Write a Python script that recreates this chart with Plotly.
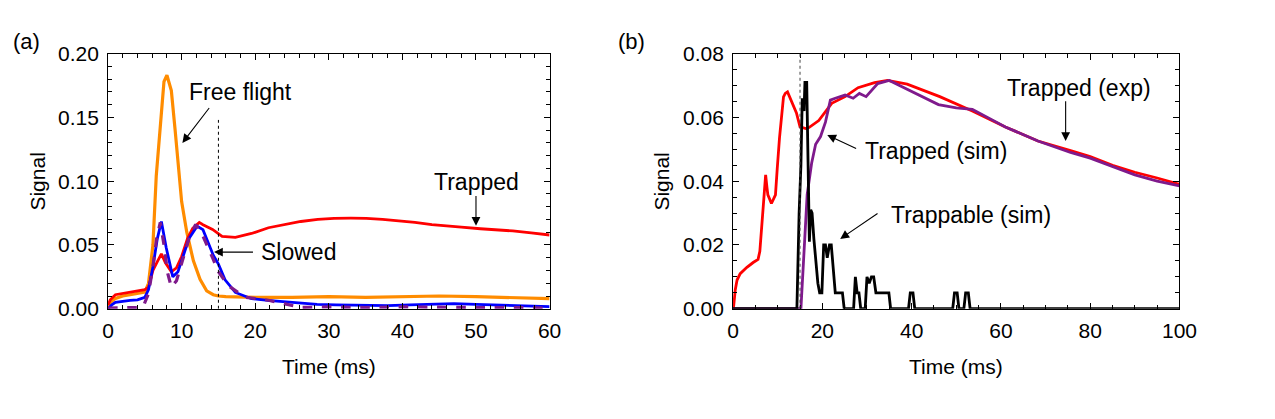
import plotly.graph_objects as go

# ---------------- Panel (a) data ----------------
orange_t = [0, 0.5, 1, 2, 3, 4, 5, 5.5, 6.1, 6.55, 7.2, 7.6, 8.0, 8.6, 9.1, 9.6, 10.0, 10.7, 11.6, 12.5, 13.4, 14.3, 15, 16, 18, 20, 25, 30, 35, 40, 45, 50, 55, 60]
orange_v = [0.002, 0.006, 0.008, 0.010, 0.011, 0.012, 0.013, 0.020, 0.050, 0.104, 0.154, 0.178, 0.183, 0.171, 0.141, 0.109, 0.084, 0.060, 0.0375, 0.023, 0.014, 0.011, 0.010, 0.0095, 0.009, 0.009, 0.009, 0.0095, 0.009, 0.0095, 0.010, 0.0095, 0.009, 0.008]

red_a_t = [0, 0.3, 1, 2, 3, 4, 5, 5.5, 6.1, 6.7, 7.25, 7.8, 8.6, 9.3, 10, 10.8, 11.5, 12.4, 12.9, 14.2, 15.5, 17.3, 19.5, 21.8, 24, 26.2, 28.5, 30.7, 33, 35.1, 37.3, 39.6, 41.7, 44, 46.1, 48, 50.6, 53, 55, 57.5, 60]
red_a_v = [0.003, 0.007, 0.011, 0.012, 0.013, 0.014, 0.015, 0.017, 0.030, 0.037, 0.043, 0.036, 0.029, 0.032, 0.041, 0.055, 0.063, 0.0677, 0.0659, 0.0622, 0.0568, 0.056, 0.059, 0.0635, 0.066, 0.0684, 0.070, 0.0709, 0.071, 0.0709, 0.070, 0.0691, 0.0677, 0.066, 0.0647, 0.064, 0.0627, 0.062, 0.061, 0.0595, 0.0578]

blue_t = [0, 0.5, 1, 2, 3, 4, 5, 5.5, 6.1, 6.7, 7.25, 7.9, 8.8, 9.5, 10.1, 11, 12.1, 12.9, 13.6, 14.3, 15, 15.9, 17.3, 19.5, 21.7, 23.9, 26, 28.4, 31, 35, 38, 41, 44, 47, 50, 53, 56, 60]
blue_v = [0.0, 0.003, 0.005, 0.006, 0.0065, 0.007, 0.009, 0.015, 0.033, 0.055, 0.0684, 0.048, 0.025, 0.029, 0.040, 0.055, 0.0647, 0.062, 0.052, 0.042, 0.035, 0.0227, 0.0128, 0.0079, 0.0065, 0.0054, 0.0045, 0.0035, 0.003, 0.0025, 0.0025, 0.003, 0.0035, 0.004, 0.0035, 0.003, 0.0025, 0.0017]

purple_a_t = [0, 2, 4, 4.8, 5.5, 6.1, 6.6, 7.1, 7.6, 8.1, 8.6, 9.3, 10.1, 11, 11.9, 12.9, 14.2, 15, 16.4, 18.6, 21.8, 24.4, 26.2, 30, 35, 40, 45, 50, 55, 60]
purple_a_v = [0.0005, 0.001, 0.001, 0.002, 0.012, 0.033, 0.055, 0.0677, 0.050, 0.028, 0.017, 0.022, 0.038, 0.055, 0.066, 0.057, 0.040, 0.029, 0.0178, 0.0091, 0.0067, 0.003, 0.001, 0.0015, 0.001, 0.0015, 0.001, 0.001, 0.001, 0.0005]

# ---------------- Panel (b) data ----------------
red_b_t = [0, 0.15, 0.5, 0.9, 1.6, 3.1, 4.5, 5.6, 6.0, 6.4, 6.7, 7.0, 7.3, 7.6, 7.8, 8.6, 9.5, 9.9, 10.4, 11.3, 11.7, 12.2, 12.8, 13.3, 14.2, 15.0, 16.3, 17, 19.2, 22.1, 25.1, 28, 31.7, 34.6, 39, 46.3, 53.6, 61, 68.3, 75.6, 80, 85, 90, 95, 100]
red_b_v = [0, 0.001, 0.006, 0.009, 0.011, 0.013, 0.0145, 0.0155, 0.018, 0.025, 0.033, 0.038, 0.042, 0.038, 0.0357, 0.033, 0.0357, 0.044, 0.0535, 0.0664, 0.0675, 0.068, 0.066, 0.0644, 0.0614, 0.0570, 0.0565, 0.0568, 0.059, 0.0644, 0.0665, 0.0693, 0.0709, 0.0716, 0.0704, 0.0665, 0.062, 0.057, 0.0526, 0.0496, 0.0477, 0.045, 0.0428, 0.041, 0.039]

purple_b_t = [0, 15.2, 16.6, 17.6, 18.5, 19.6, 20.7, 21.8, 22.9, 25.1, 26.9, 28.3, 29.8, 32.4, 35, 37.5, 42.6, 46, 50, 53.6, 57, 61, 68.3, 75.6, 80, 85, 90, 95, 100]
purple_b_v = [0, 0, 0.0358, 0.0456, 0.0516, 0.054, 0.0585, 0.0654, 0.066, 0.067, 0.066, 0.0675, 0.0665, 0.0706, 0.0716, 0.0699, 0.0665, 0.064, 0.063, 0.0625, 0.060, 0.057, 0.0526, 0.049, 0.0472, 0.0445, 0.042, 0.040, 0.0385]

black_t = [0, 14.3, 14.8, 15.2, 15.5, 15.9, 16.1, 16.5, 16.8, 17.1, 17.4, 17.7, 18.1, 18.5, 19.0, 19.4, 19.9, 20.3, 20.7, 21.1, 21.6, 22.0, 22.5, 22.9, 24.5, 24.9, 27.0, 27.4, 27.8, 28.2, 28.6, 29.6, 30.0, 30.5, 31.0, 31.5, 32.0, 32.4, 34.9, 35.3, 39.3, 39.7, 40.3, 40.7, 49.2, 49.6, 50.2, 50.6, 51.7, 52.1, 52.7, 53.1, 100]
black_v = [0, 0, 0.030, 0.045, 0.066, 0.062, 0.071, 0.071, 0.046, 0.021, 0.031, 0.030, 0.022, 0.015, 0.008, 0.005, 0.005, 0.020, 0.020, 0.016, 0.020, 0.020, 0.010, 0.005, 0.005, 0, 0, 0.010, 0.005, 0.005, 0, 0, 0.010, 0.008, 0.010, 0.010, 0.005, 0.005, 0.005, 0, 0, 0.005, 0.005, 0, 0, 0.005, 0.005, 0, 0, 0.005, 0.005, 0, 0]

x_ticks_a = [0, 10, 20, 30, 40, 50, 60]
y_ticks_a = [0.00, 0.05, 0.10, 0.15, 0.20]
x_ticks_b = [0, 20, 40, 60, 80, 100]
y_ticks_b = [0.00, 0.02, 0.04, 0.06, 0.08]

FONT = "Liberation Sans, Arial, sans-serif"
W, H = 1275, 419
TICK_SIZE = 21
TITLE_SIZE = 21
ANN_SIZE = 23

def px_x(p):
    return p / W

def px_y(p):
    return 1 - p / H

fig = go.Figure()

fig.add_trace(go.Scatter(x=orange_t, y=orange_v, mode="lines", line=dict(color="#FF8C00", width=3.2), xaxis="x", yaxis="y"))
fig.add_trace(go.Scatter(x=red_a_t, y=red_a_v, mode="lines", line=dict(color="#FF0000", width=2.8), xaxis="x", yaxis="y"))
fig.add_trace(go.Scatter(x=blue_t, y=blue_v, mode="lines", line=dict(color="#0000FF", width=2.8), xaxis="x", yaxis="y"))
fig.add_trace(go.Scatter(x=purple_a_t, y=purple_a_v, mode="lines", line=dict(color="#7F1A8C", width=3.2, dash="dash"), xaxis="x", yaxis="y"))

fig.add_trace(go.Scatter(x=red_b_t, y=red_b_v, mode="lines", line=dict(color="#FF0000", width=2.8), xaxis="x2", yaxis="y2"))
fig.add_trace(go.Scatter(x=purple_b_t, y=purple_b_v, mode="lines", line=dict(color="#7F1A8C", width=2.8), xaxis="x2", yaxis="y2"))
fig.add_trace(go.Scatter(x=black_t, y=black_v, mode="lines", line=dict(color="#000000", width=2.8), xaxis="x2", yaxis="y2"))

common = dict(showline=True, linecolor="black", linewidth=1, mirror="allticks",
              ticks="inside", ticklen=6, tickcolor="black", tickwidth=1,
              showgrid=False, zeroline=False,
              tickfont=dict(family=FONT, size=TICK_SIZE, color="black"))

ydom = [px_y(314), px_y(44)]
fig.update_layout(
    width=W, height=H, margin=dict(l=0, r=0, t=0, b=0),
    paper_bgcolor="white", plot_bgcolor="white", showlegend=False,
    font=dict(family=FONT, color="black"),
    xaxis=dict(domain=[px_x(104), px_x(554)], range=[0, 60], tickvals=x_ticks_a, anchor="y",
               ticklabelstandoff=3,
               minor=dict(ticks="inside", dtick=2, ticklen=4, tickcolor="black"), **common),
    yaxis=dict(domain=ydom, range=[0, 0.2], tickvals=y_ticks_a, tickformat=".2f", anchor="x",
               ticklabelstandoff=4,
               minor=dict(ticks="inside", dtick=0.01, ticklen=4, tickcolor="black"), **common),
    xaxis2=dict(domain=[px_x(741), px_x(1196)], range=[0, 100], tickvals=x_ticks_b, anchor="y2",
                ticklabelstandoff=3,
                minor=dict(ticks="inside", dtick=5, ticklen=4, tickcolor="black"), **common),
    yaxis2=dict(domain=ydom, range=[0, 0.08], tickvals=y_ticks_b, tickformat=".2f", anchor="x2",
                ticklabelstandoff=4,
                minor=dict(ticks="inside", dtick=0.005, ticklen=4, tickcolor="black"), **common),
)

fig.add_shape(type="line", xref="x", yref="y", x0=15, x1=15, y0=0, y1=0.148,
              line=dict(color="black", width=1, dash="dot"))
fig.add_shape(type="line", xref="x2", yref="y2", x0=15, x1=15, y0=0, y1=0.08,
              line=dict(color="#444444", width=1, dash="dot"))

ann = []
def text(x, y, s, xref, yref, size=ANN_SIZE):
    ann.append(dict(x=x, y=y, xref=xref, yref=yref, text=s, showarrow=False,
                    xanchor="center", yanchor="middle", font=dict(family=FONT, size=size, color="black")))

def arrow(hx, hy, tx, ty, xr, yr):
    ann.append(dict(x=hx, y=hy, ax=tx, ay=ty, xref=xr, yref=yr, axref=xr, ayref=yr,
                    text="", showarrow=True, arrowhead=2, arrowsize=1.6, arrowwidth=1.1,
                    arrowcolor="black", standoff=0, startstandoff=0))

# Panel (a) annotations
text(18.0, 0.1696, "Free flight", "x", "y")
arrow(10.1, 0.130, 13.9, 0.1585, "x", "y")
text(25.9, 0.0444, "Slowed", "x", "y")
arrow(14.4, 0.0444, 19.9, 0.0444, "x", "y")
text(50.1, 0.0993, "Trapped", "x", "y")
arrow(50.0, 0.065, 50.0, 0.0896, "x", "y")

# Panel (b) annotations
text(77.4, 0.0693, "Trapped (exp)", "x2", "y2")
arrow(74.5, 0.0526, 74.5, 0.0655, "x2", "y2")
text(45.5, 0.0495, "Trapped (sim)", "x2", "y2")
arrow(21.1, 0.0545, 27.9, 0.050, "x2", "y2")
text(53.4, 0.0293, "Trappable (sim)", "x2", "y2")
arrow(24.0, 0.0219, 32.7, 0.0302, "x2", "y2")

# Axis titles and panel labels
for cx in (329, 968):
    ann.append(dict(x=px_x(cx), y=px_y(375), xref="paper", yref="paper", text="Time (ms)", showarrow=False,
                    xanchor="center", yanchor="middle", font=dict(family=FONT, size=TITLE_SIZE, color="black")))
for cx in (32, 668):
    ann.append(dict(x=px_x(cx), y=px_y(179), xref="paper", yref="paper", text="Signal", showarrow=False,
                    textangle=-90, xanchor="center", yanchor="middle", font=dict(family=FONT, size=TITLE_SIZE, color="black")))
ann.append(dict(x=px_x(21), y=px_y(31), xref="paper", yref="paper", text="(a)", showarrow=False,
                xanchor="center", yanchor="middle", font=dict(family=FONT, size=22, color="black")))
ann.append(dict(x=px_x(637), y=px_y(31), xref="paper", yref="paper", text="(b)", showarrow=False,
                xanchor="center", yanchor="middle", font=dict(family=FONT, size=22, color="black")))

fig.update_layout(annotations=ann)
fig.write_html("out.html")
